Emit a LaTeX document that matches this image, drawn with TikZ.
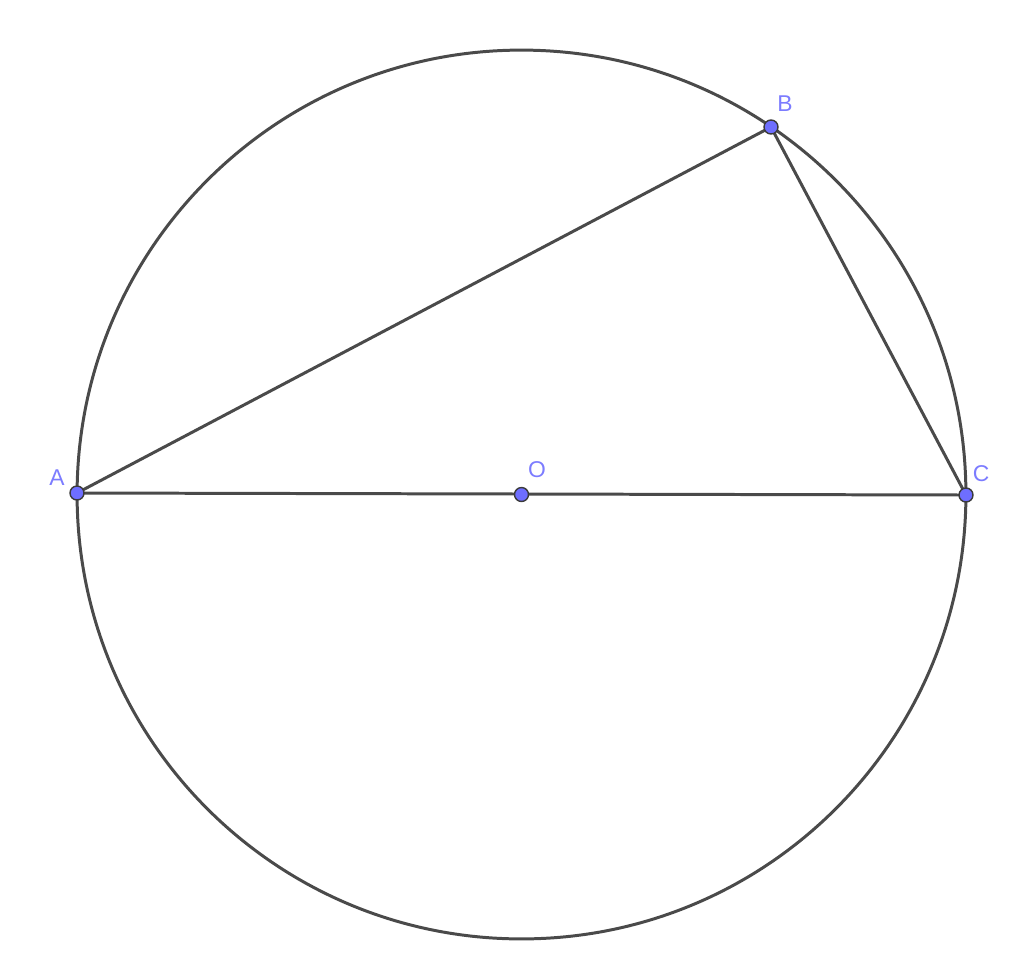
\documentclass[tikz,border=0pt]{standalone}
\usepackage{fontspec}
\setmainfont{Liberation Sans}
\usepackage{tikz}
\usetikzlibrary{arrows}

\definecolor{lineclr}{HTML}{4A4A4A}
\definecolor{ptfill}{HTML}{6E6EFF}
\definecolor{lblclr}{HTML}{7C7CFF}

\begin{document}
\begin{tikzpicture}[x=0.02cm,y=-0.02cm,
    seg/.style={draw=lineclr,line width=1.7pt},
    pt/.style={circle,draw=lineclr!80!black,fill=ptfill,line width=0.8pt,inner sep=0pt,minimum size=0.28cm},
    lbl/.style={text=lblclr,font=\fontsize{13}{13}\selectfont,inner sep=0pt}]
  \useasboundingbox (0,0) rectangle (1024,975);
  \coordinate (O) at (521.5,494.5);
  \draw[seg] (O) circle[radius=8.89cm];
  \coordinate (A) at (77,493);
  \coordinate (B) at (771,127);
  \coordinate (C) at (966,495);
  \path[seg] (A) edge (B);
  \path[seg] (B) edge (C);
  \path[seg] (A) edge (C);
  \foreach \p/\lx/\ly in {A/57/478,B/785/104,C/981/474,O/537/470} {
    \node[pt] (\p pt) at (\p) {};
    \node[lbl] (\p lbl) at (\lx,\ly) {\p};
  }
\end{tikzpicture}
\end{document}
